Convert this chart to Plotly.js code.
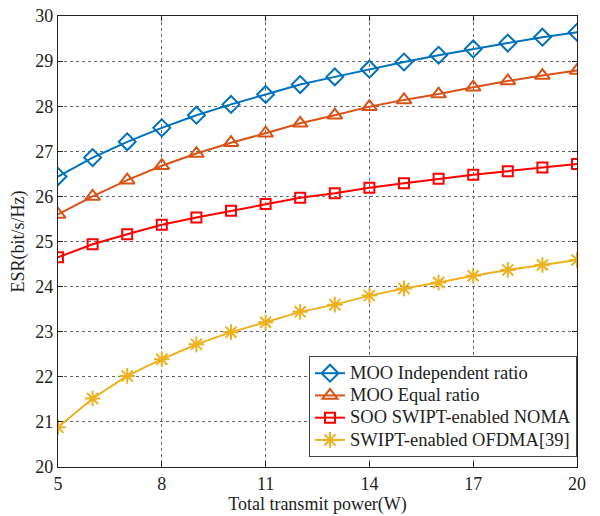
<!DOCTYPE html>
<html>
<head>
<meta charset="utf-8">
<script src="https://cdn.plot.ly/plotly-3.0.1.min.js"></script>
<style>html,body{margin:0;padding:0;background:#fff;}#chart{width:600px;height:516px;}</style>
</head>
<body>
<div id="chart"></div>
<script>
const power = [5,6,7,8,9,10,11,12,13,14,15,16,17,18,19,20];
const mooIndependent = [26.44,26.86,27.21,27.52,27.80,28.04,28.26,28.48,28.65,28.82,28.98,29.13,29.27,29.40,29.53,29.64];
const mooEqual = [25.60,26.00,26.36,26.68,26.95,27.19,27.40,27.62,27.80,27.99,28.14,28.27,28.42,28.56,28.68,28.79];
const sooNoma = [24.65,24.94,25.16,25.37,25.53,25.68,25.83,25.97,26.07,26.19,26.29,26.39,26.48,26.56,26.64,26.72];
const ofdma = [20.88,21.52,22.02,22.39,22.72,22.99,23.21,23.44,23.60,23.80,23.96,24.09,24.24,24.37,24.48,24.59];
const seriesNames = ["MOO Independent ratio","MOO Equal ratio","SOO SWIPT-enabled NOMA","SWIPT-enabled OFDMA[39]"];
const xTicks = [5,8,11,14,17,20];
const yTicks = [20,21,22,23,24,25,26,27,28,29,30];

const styles = [
  {color:"#0072BD", symbol:"diamond-open", size:13},
  {color:"#D95319", symbol:"triangle-up-open", size:13},
  {color:"#FF0000", symbol:"square-open", size:10},
  {color:"#EDB120", symbol:"asterisk-open", size:13}
];
const ys = [mooIndependent, mooEqual, sooNoma, ofdma];
const traces = ys.map((y,i)=>({
  x: power, y: y,
  name: '<span style="font-size:18.5px">' + seriesNames[i] + '</span>',
  type:"scatter", mode:"lines+markers",
  line:{color:styles[i].color, width:2},
  marker:{symbol:styles[i].symbol, size:styles[i].size, color:styles[i].color, line:{color:styles[i].color, width:2}}
}));

const font = {family:"Liberation Serif, Times New Roman, serif", size:18, color:"#222"};
const axisCommon = {
  showline:true, linecolor:"#222", linewidth:1.2, mirror:"allticks",
  ticks:"inside", ticklen:5, tickcolor:"#222", tickwidth:1,
  showgrid:true, gridcolor:"#666", griddash:"dot", gridwidth:1,
  zeroline:false, tickfont:font
};
const layout = {
  width:600, height:516,
  margin:{l:58, r:23, t:16, b:49},
  paper_bgcolor:"#fff", plot_bgcolor:"#fff",
  font: font,
  showlegend:true,
  xaxis: Object.assign({}, axisCommon, {
    range:[5,20], tickvals:xTicks, ticktext:xTicks.map(String),
    title:{text:"Total transmit power(W)", font:font, standoff:2}
  }),
  yaxis: Object.assign({}, axisCommon, {
    range:[20,30], tickvals:yTicks, ticktext:yTicks.map(String),
    title:{text:"ESR(bit/s/Hz)", font:font, standoff:6}
  }),
  legend:{
    x:1, xanchor:"right", y:0.022, yanchor:"bottom",
    bgcolor:"#fff", bordercolor:"#444", borderwidth:1,
    font:{family:font.family, size:14.8, color:"#222"},
    tracegroupgap:0, itemwidth:30
  }
};
Plotly.newPlot("chart", traces, layout, {displayModeBar:false, staticPlot:true});
</script>
</body>
</html>
